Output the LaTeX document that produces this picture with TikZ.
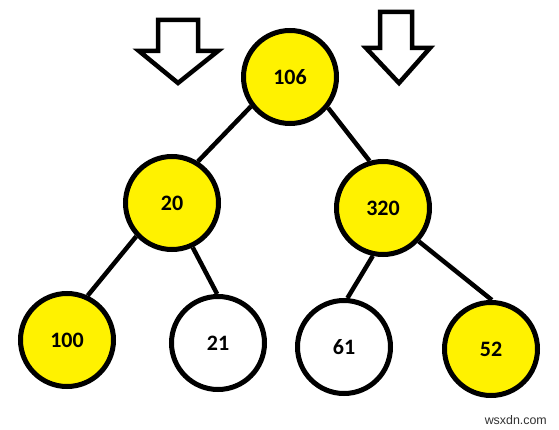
\documentclass[tikz,border=0pt]{standalone}
\usepackage{fontspec}
\setmainfont{Carlito}
\newfontfamily\wmfont{Liberation Sans}
\definecolor{pyellow}{RGB}{255,242,0}
\definecolor{wmgray}{RGB}{50,50,50}
\begin{document}
\begin{tikzpicture}[x=1pt,y=-1pt,
  tnode/.style={circle,draw=black,line width=5pt,minimum size=93pt,inner sep=0pt,
    font=\fontsize{22}{25}\selectfont\bfseries},
  hot/.style={tnode,fill=pyellow},
  cold/.style={tnode,fill=white},
  edge/.style={line width=4.5pt},
  downarrow/.style={draw=black,fill=white,line width=4.5pt,line join=miter}]
\useasboundingbox (0,0) rectangle (559,430);
\fill[white] (0,0) rectangle (559,430);
% nodes
\node[hot]  (n106) at (290,77)  {106};
\node[hot]  (n20)  at (172,203) {20};
\node[hot]  (n320) at (383,208) {320};
\node[hot]  (n100) at (67,340)  {100};
\node[cold] (n21)  at (218,343) {21};
\node[cold] (n61)  at (344,347) {61};
\node[hot]  (n52)  at (491,349) {52};
% edges
\draw[edge] (n106.217) -- (n20.58);
\draw[edge] (n106.321) -- (n320.106);
\draw[edge] (n20.223) -- (n100.65);
\draw[edge] (n20.295) -- (n21.91);
\draw[edge] (n320.258) -- (n61.86);
\draw[edge] (n320.317) -- (n52.89);
% arrows
\draw[downarrow] (158,20) -- (198,20) -- (198,51) -- (218,51) -- (178,83) -- (139,51) -- (158,51) -- cycle;
\draw[downarrow] (380,12) -- (412,12) -- (412,48) -- (430,48) -- (399,83) -- (366,48) -- (380,48) -- cycle;
% watermark
\node[font=\wmfont\fontsize{12.4}{14}\selectfont,text=wmgray,anchor=east,inner sep=0pt] (wm) at (547,420) {wsxdn.com};
\end{tikzpicture}
\end{document}
